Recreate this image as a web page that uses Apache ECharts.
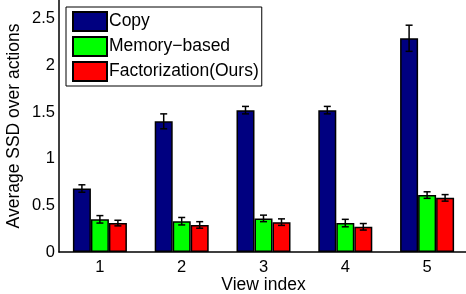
<!DOCTYPE html>
<html>
<head>
<meta charset="utf-8">
<script src="https://cdn.jsdelivr.net/npm/echarts@6/dist/echarts.min.js"></script>
<style>
html,body{margin:0;padding:0;background:#fff;}
#main{width:466px;height:294px;}
</style>
</head>
<body>
<div id="main"></div>
<script>
var views = ['1', '2', '3', '4', '5'];
var seriesNames = ['Copy', 'Memory\u2212based', 'Factorization(Ours)'];
var copyVal = [0.68, 1.40, 1.52, 1.52, 2.29];
var copyErr = [0.04, 0.08, 0.04, 0.04, 0.14];
var memVal = [0.35, 0.33, 0.36, 0.31, 0.61];
var memErr = [0.04, 0.04, 0.035, 0.04, 0.035];
var facVal = [0.31, 0.29, 0.32, 0.27, 0.58];
var facErr = [0.03, 0.035, 0.035, 0.035, 0.035];
var colors = ['#000080', '#00ff00', '#ff0000'];

var chart = echarts.init(document.getElementById('main'));
var fontFam = '"Liberation Sans", Arial, sans-serif';
var barW = 18;

var vals = [copyVal, memVal, facVal];
var errs = [copyErr, memErr, facErr];

// error bars drawn as custom series, shifted to each bar's center
function errSeries(k) {
    var data = [];
    for (var i = 0; i < views.length; i++) {
        data.push([i, vals[k][i] - errs[k][i], vals[k][i] + errs[k][i]]);
    }
    return {
        type: 'custom',
        z: 10,
        silent: true,
        renderItem: function (params, api) {
            var lo = api.coord([api.value(0), api.value(1)]);
            var hi = api.coord([api.value(0), api.value(2)]);
            var x = lo[0] + (k - 1) * barW;
            var hw = 3.5;
            var st = {stroke: '#000', lineWidth: 1.5};
            return {
                type: 'group',
                children: [
                    {type: 'line', shape: {x1: x, y1: lo[1], x2: x, y2: hi[1]}, style: st},
                    {type: 'line', shape: {x1: x - hw, y1: lo[1], x2: x + hw, y2: lo[1]}, style: st},
                    {type: 'line', shape: {x1: x - hw, y1: hi[1], x2: x + hw, y2: hi[1]}, style: st}
                ]
            };
        },
        data: data
    };
}

var series = [];
for (var k = 0; k < 3; k++) {
    series.push({
        name: seriesNames[k],
        type: 'bar',
        barWidth: barW,
        barGap: '0%',
        itemStyle: {color: colors[k], borderColor: '#000', borderWidth: 1.5},
        data: vals[k]
    });
}
for (var k = 0; k < 3; k++) {
    series.push(errSeries(k));
}

var option = {
    animation: false,
    backgroundColor: '#fff',
    textStyle: {fontFamily: fontFam},
    grid: {left: 59, right: -2, top: 0, bottom: 42, outerBoundsMode: 'none'},
    legend: {
        data: seriesNames,
        orient: 'vertical',
        left: 66,
        top: 7,
        itemWidth: 34,
        itemHeight: 19,
        itemGap: 4,
        padding: [4, 3, 4, 6],
        borderColor: '#000',
        borderWidth: 1,
        backgroundColor: '#fff',
        icon: 'rect',
        textStyle: {fontFamily: fontFam, fontSize: 17.5, color: '#000', padding: [0, 0, 0, -3]}
    },
    xAxis: {
        type: 'category',
        data: views,
        name: 'View index',
        nameLocation: 'middle',
        nameGap: 24,
        nameMoveOverlap: false,
        nameTextStyle: {fontSize: 17.5, color: '#000', fontFamily: fontFam},
        axisLine: {lineStyle: {color: '#000', width: 1.5}},
        axisTick: {show: false},
        axisLabel: {fontSize: 16.5, color: '#000', margin: 7, fontFamily: fontFam}
    },
    yAxis: {
        type: 'value',
        min: 0,
        max: 2.7,
        interval: 0.5,
        name: 'Average SSD over actions',
        nameLocation: 'middle',
        nameGap: 36,
        nameMoveOverlap: false,
        nameTextStyle: {fontSize: 17.5, color: '#000', fontFamily: fontFam},
        axisLine: {show: true, lineStyle: {color: '#000', width: 1.5}},
        axisTick: {show: false},
        splitLine: {show: false},
        axisLabel: {fontSize: 16.5, color: '#000', margin: 4, fontFamily: fontFam,
            showMaxLabel: false}
    },
    series: series
};
chart.setOption(option);
</script>
</body>
</html>
